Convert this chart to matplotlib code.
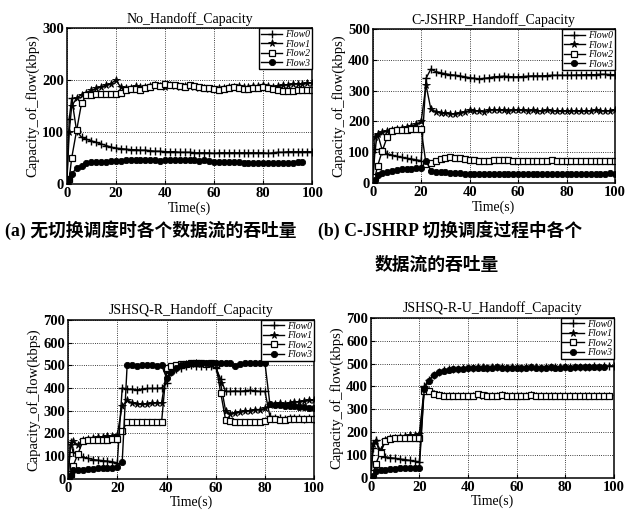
import numpy as np
import matplotlib
matplotlib.use('Agg')
import matplotlib.pyplot as plt

nan = np.nan

# time axis (s), shared by all four panels
time_s = [0, 1, 2, 4, 6, 8, 10, 12, 14, 16, 18, 20, 22, 24, 26, 28, 30, 32, 34, 36,
          38, 40, 42, 44, 46, 48, 50, 52, 54, 56, 58, 60, 62, 64, 66, 68, 70, 72, 74, 76,
          78, 80, 82, 84, 86, 88, 90, 92, 94, 96, 98, 100]

flow_names = ['Flow0', 'Flow1', 'Flow2', 'Flow3']

# (a) No handoff
a_flow0 = [0, 125, 165, 102, 90, 86, 83, 80, 77, 74, 71, 69, 68, 67, 66, 66, 65, 65, 64, 63,
           63, 62, 62, 62, 61, 61, 61, 60, 60, 60, 60, 59, 60, 60, 60, 60, 60, 60, 60, 60,
           60, 60, 59, 60, 61, 61, 62, 62, 62, 62, 62, 62]
a_flow1 = [0, 100, 150, 165, 172, 176, 180, 184, 187, 190, 193, 200, 186, 184, 185, 188, 187, 186, 188, 190,
           188, 186, 190, 188, 187, 189, 188, 186, 185, 184, 183, 182, 184, 185, 186, 187, 188, 186, 187, 188,
           189, 190, 188, 187, 188, 190, 191, 192, 193, 192, 194, 195]
a_flow2 = [0, 10, 50, 103, 155, 171, 172, 173, 173, 173, 174, 174, 176, 180, 182, 183, 180, 184, 186, 190,
           188, 192, 190, 191, 188, 187, 190, 189, 186, 185, 184, 183, 181, 182, 184, 186, 185, 183, 182, 184,
           185, 186, 184, 182, 180, 179, 178, 179, 180, 181, 180, 180]
a_flow3 = [0, 10, 20, 30, 35, 40, 42, 43, 43, 43, 44, 44, 45, 46, 47, 47, 46, 46, 47, 46,
           44, 46, 47, 46, 46, 46, 46, 46, 45, 46, 45, 43, 43, 42, 42, 42, 42, 41, 41, 40,
           40, 40, 40, 40, 40, 41, 41, 41, 42, 42, nan, nan]

# (b) C-JSHRP handoff
b_flow0 = [0, 110, 160, 105, 95, 90, 86, 83, 80, 78, 75, 72, 340, 370, 362, 358, 355, 352, 350, 348,
           345, 342, 340, 338, 340, 342, 345, 346, 347, 346, 345, 345, 346, 347, 348, 348, 348, 349, 350, 350,
           350, 350, 350, 351, 351, 352, 352, 352, 353, 353, 352, 352]
b_flow1 = [0, 150, 160, 165, 168, 172, 175, 178, 182, 186, 190, 200, 318, 240, 232, 228, 226, 225, 224, 226,
           230, 236, 235, 233, 232, 236, 238, 237, 236, 235, 236, 237, 236, 235, 236, 235, 234, 236, 235, 234,
           233, 234, 235, 234, 233, 234, 235, 236, 235, 234, 235, 236]
b_flow2 = [0, 20, 55, 105, 150, 170, 172, 172, 173, 175, 176, 175, 62, 65, 72, 78, 82, 85, 82, 80,
           78, 76, 74, 72, 70, 72, 74, 76, 75, 73, 72, 70, 71, 72, 72, 71, 72, 72, 73, 72,
           72, 71, 72, 72, 71, 72, 72, 71, 70, 71, 72, 72]
b_flow3 = [0, 10, 25, 32, 36, 40, 42, 44, 45, 46, 47, 48, 72, 40, 36, 35, 34, 33, 32, 31,
           30, 30, 29, 29, 30, 30, 29, 29, 30, 30, 30, 29, 29, 29, 29, 30, 30, 30, 29, 29,
           30, 30, 30, 30, 30, 30, 30, 30, 30, 30, 31, 30]

# (c) JSHSQ-R handoff
c_flow0 = [0, 160, 120, 100, 95, 90, 85, 82, 80, 78, 75, 70, 400, 395, 395, 392, 395, 398, 398, 398,
           400, 420, 470, 485, 490, 495, 500, 498, 495, 497, 495, 490, 440, 385, 385, 387, 385, 388, 390, 388,
           385, 385, 275, 270, 268, 265, 268, 270, 268, 265, 268, 265]
c_flow1 = [0, 150, 165, 150, 172, 175, 178, 182, 185, 188, 190, 195, 320, 345, 335, 330, 328, 330, 332, 335,
           335, 470, 480, 495, 500, 505, 505, 508, 505, 505, 505, 500, 420, 300, 285, 290, 295, 298, 300, 305,
           305, 310, 325, 330, 332, 330, 335, 338, 340, 342, 345, 345]
c_flow2 = [0, 20, 55, 110, 165, 170, 172, 172, 172, 173, 175, 175, 210, 250, 250, 250, 250, 250, 250, 250,
           250, 490, 495, 500, 505, 505, 510, 510, 508, 505, 508, 505, 380, 260, 255, 250, 250, 250, 250, 250,
           250, 255, 265, 262, 260, 260, 262, 262, 265, 265, 265, 265]
c_flow3 = [0, 15, 40, 38, 40, 42, 45, 46, 47, 48, 48, 50, 75, 500, 500, 495, 500, 500, 500, 495,
           500, 445, 470, 490, 500, 505, 510, 510, 512, 510, 512, 510, 512, 510, 508, 495, 505, 510, 510, 512,
           510, 510, 330, 325, 325, 322, 320, 320, 318, 315, 312, 310]

# (d) JSHSQ-R-U handoff
d_flow0 = [0, 130, 165, 100, 92, 88, 85, 82, 80, 76, 72, 70, 400, 430, 452, 465, 470, 474, 477, 478,
           480, 482, 482, 484, 483, 482, 484, 485, 483, 482, 484, 483, 482, 484, 485, 483, 482, 484, 485, 483,
           484, 485, 484, 486, 485, 486, 487, 488, 487, 488, 490, 490]
d_flow1 = [0, 150, 160, 120, 165, 172, 175, 180, 183, 186, 188, 190, 395, 380, 368, 362, 360, 358, 358, 357,
           358, 358, 360, 362, 360, 358, 358, 360, 361, 360, 359, 358, 358, 360, 361, 360, 359, 358, 358, 360,
           360, 359, 358, 360, 360, 359, 358, 358, 360, 360, 358, nan]
d_flow2 = [0, 20, 60, 110, 160, 170, 172, 172, 173, 174, 175, 175, 380, 378, 368, 362, 360, 358, 356, 357,
           358, 358, 360, 365, 362, 358, 357, 360, 362, 360, 358, 357, 358, 360, 361, 359, 358, 357, 358, 360,
           360, 358, 357, 358, 360, 360, 359, 358, 357, 358, 358, nan]
d_flow3 = [0, 10, 30, 35, 36, 38, 40, 42, 43, 44, 45, 45, 390, 425, 450, 462, 468, 472, 475, 477,
           478, 480, 480, 482, 481, 480, 482, 483, 481, 480, 482, 481, 480, 482, 483, 481, 480, 482, 483, 481,
           482, 483, 482, 484, 483, 484, 485, 486, 485, 486, nan, nan]

panels = [
    ('No_Handoff_Capacity', [a_flow0, a_flow1, a_flow2, a_flow3], 300, 100),
    ('C-JSHRP_Handoff_Capacity', [b_flow0, b_flow1, b_flow2, b_flow3], 500, 100),
    ('JSHSQ-R_Handoff_Capacity', [c_flow0, c_flow1, c_flow2, c_flow3], 700, 100),
    ('JSHSQ-R-U_Handoff_Capacity', [d_flow0, d_flow1, d_flow2, d_flow3], 700, 100),
]

rects = [
    [0.105, 0.640, 0.386, 0.305],
    [0.586, 0.642, 0.381, 0.301],
    [0.107, 0.063, 0.387, 0.311],
    [0.583, 0.065, 0.382, 0.313],
]

styles = [
    dict(marker='+', ms=5.5, mew=1.0),
    dict(marker='*', ms=5.5, mew=0.6),
    dict(marker='s', ms=4.5, mfc='white', mew=0.9),
    dict(marker='o', ms=4.5, mew=0.6),
]

plt.rcParams['font.family'] = ['Liberation Serif', 'DejaVu Serif']

fig = plt.figure(figsize=(6.36, 5.11), dpi=100)

for (title, series, ymax, ystep), rect in zip(panels, rects):
    ax = fig.add_axes(rect)
    for name, vals, st in zip(flow_names, series, styles):
        ax.plot(time_s, vals, color='black', lw=1.0, label=name, **st)
    ax.set_xlim(0, 100)
    ax.set_ylim(0, ymax)
    ax.set_xticks(range(0, 101, 20))
    ax.set_yticks(range(0, ymax + 1, ystep))
    ax.grid(True, linestyle=':', color='black', lw=0.6)
    ax.tick_params(direction='in', length=3, labelsize=10.5, pad=2)
    for lab in ax.get_xticklabels() + ax.get_yticklabels():
        lab.set_fontweight('bold')
    for sp in ax.spines.values():
        sp.set_linewidth(1.1)
    ax.set_title(title, fontsize=10, pad=4)
    ax.set_xlabel('Time(s)', fontsize=10, labelpad=1)
    ax.set_ylabel('Capacity_of_flow(kbps)', fontsize=10.5, labelpad=2)
    ax.legend(loc='upper right', frameon=True, fancybox=False,
              edgecolor='black', framealpha=1, borderaxespad=0, borderpad=0.2,
              labelspacing=0.05, handlelength=2.2, handletextpad=0.3,
              prop={'style': 'italic', 'size': 7})

cap = ['Liberation Serif', 'Noto Sans CJK SC']
fig.text(5 / 636, 1 - 230 / 511, '(a) 无切换调度时各个数据流的吞吐量',
         family=cap, fontsize=12.8, fontweight='bold', va='center', ha='left')
fig.text(318 / 636, 1 - 230 / 511, '(b) C-JSHRP 切换调度过程中各个',
         family=cap, fontsize=12.8, fontweight='bold', va='center', ha='left')
fig.text(375 / 636, 1 - 265 / 511, '数据流的吞吐量',
         family=cap, fontsize=12.8, fontweight='bold', va='center', ha='left')

fig.savefig('out.png', dpi=100)
